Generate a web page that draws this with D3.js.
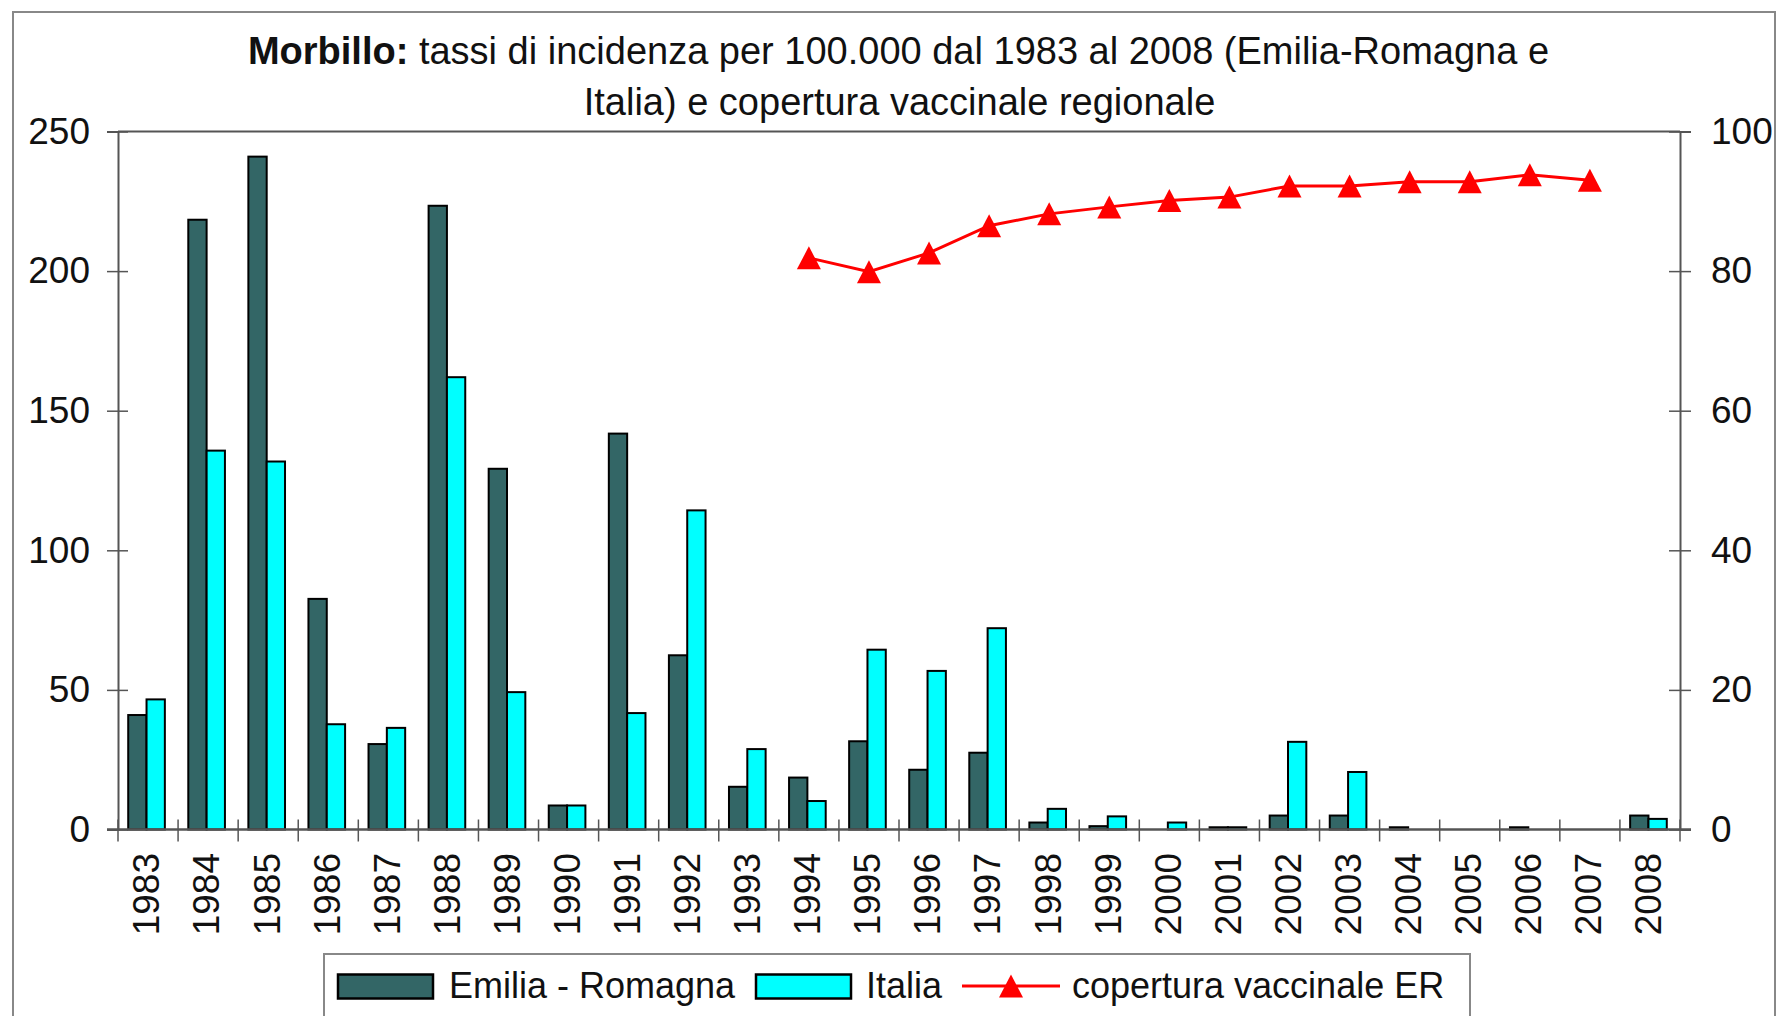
<!DOCTYPE html>
<html>
<head>
<meta charset="utf-8">
<script src="https://cdn.jsdelivr.net/npm/d3@7"></script>
<style>
  html, body { margin: 0; padding: 0; background: #fff; }
  svg { display: block; font-family: "Liberation Sans", Arial, sans-serif; }
</style>
</head>
<body>
<svg id="chart" width="1776" height="1016"></svg>
<script>
// ---- data ----
const years = ["1983","1984","1985","1986","1987","1988","1989","1990","1991","1992","1993","1994","1995","1996","1997","1998","1999","2000","2001","2002","2003","2004","2005","2006","2007","2008"];
const emiliaRomagna = [41, 218.4, 241, 82.6, 30.6, 223.4, 129.2, 8.6, 141.8, 62.4, 15.3, 18.6, 31.6, 21.4, 27.5, 2.5, 1.2, 0, 0.8, 5.0, 5.0, 0.8, 0, 0.8, 0, 5.0];
const italia = [46.6, 135.7, 131.8, 37.7, 36.4, 162, 49.2, 8.6, 41.7, 114.3, 28.8, 10.2, 64.4, 56.8, 72.1, 7.4, 4.7, 2.5, 0.8, 31.4, 20.6, 0, 0, 0, 0, 3.8];
const copertura = [null, null, null, null, null, null, null, null, null, null, null, 81.9, 79.9, 82.6, 86.5, 88.2, 89.2, 90.1, 90.6, 92.2, 92.2, 92.8, 92.8, 93.8, 93.0, null];
const leftTicks = [0, 50, 100, 150, 200, 250];
const rightTicks = [0, 20, 40, 60, 80, 100];
const seriesNames = ["Emilia - Romagna", "Italia", "copertura vaccinale ER"];
const titleBold = "Morbillo:";
const titleRest1 = " tassi di incidenza per 100.000 dal 1983 al 2008 (Emilia-Romagna e";
const titleLine2 = "Italia) e copertura vaccinale regionale";

// ---- layout ----
const svg = d3.select("#chart");
const plot = { left: 118, right: 1680, top: 131.5, bottom: 829.5 };
const colDark = "#336666", colCyan = "#00FFFF", colRed = "#FF0000";
const axisCol = "#555";
const fontSize = 37;

// outer frame
svg.append("rect").attr("x", 13).attr("y", 12).attr("width", 1762).attr("height", 1030)
  .attr("fill", "#fff").attr("stroke", "#888").attr("stroke-width", 2);

const x = d3.scaleBand().domain(years).range([plot.left, plot.right]).padding(0);
const yL = d3.scaleLinear().domain([0, 250]).range([plot.bottom, plot.top]);
const yR = d3.scaleLinear().domain([0, 100]).range([plot.bottom, plot.top]);

// title
const title = svg.append("text").attr("text-anchor", "middle").attr("font-size", 38).attr("fill", "#111");
title.append("tspan").attr("x", 898.5).attr("y", 64).attr("font-weight", "bold").text(titleBold);
title.append("tspan").text(titleRest1);
svg.append("text").attr("text-anchor", "middle").attr("font-size", 38).attr("fill", "#111")
  .attr("x", 899.5).attr("y", 115).text(titleLine2);

// plot top border
svg.append("line").attr("x1", plot.left).attr("x2", plot.right)
  .attr("y1", plot.top).attr("y2", plot.top).attr("stroke", axisCol).attr("stroke-width", 2);

// bars
const bw = x.bandwidth() * 0.305;
const g = svg.append("g");
years.forEach((yr, i) => {
  const c = x(yr) + x.bandwidth() / 2 - 1.5;
  const vals = [[emiliaRomagna[i], colDark, c - bw], [italia[i], colCyan, c]];
  vals.forEach(([v, col, x0]) => {
    if (v > 0) {
      g.append("rect").attr("x", x0).attr("y", yL(v)).attr("width", bw)
        .attr("height", yL(0) - yL(v)).attr("fill", col).attr("stroke", "#000").attr("stroke-width", 2);
    }
  });
});

// left axis
const axL = svg.append("g").attr("transform", `translate(${plot.left},0)`)
  .call(d3.axisLeft(yL).tickValues(leftTicks).tickSizeOuter(0).tickSize(11).tickPadding(17));
axL.select(".domain").attr("stroke", axisCol).attr("stroke-width", 2);
axL.selectAll(".tick line").attr("x1", 10).attr("stroke", axisCol).attr("stroke-width", 1.5);
axL.selectAll(".tick text").attr("font-size", fontSize).attr("fill", "#111").attr("font-family", "Liberation Sans, Arial, sans-serif");

// right axis
const axR = svg.append("g").attr("transform", `translate(${plot.right},0)`)
  .call(d3.axisRight(yR).tickValues(rightTicks).tickSizeOuter(0).tickSize(11).tickPadding(20));
axR.select(".domain").attr("stroke", axisCol).attr("stroke-width", 2);
axR.selectAll(".tick line").attr("x1", -11).attr("stroke", axisCol).attr("stroke-width", 1.5);
axR.selectAll(".tick text").attr("font-size", fontSize).attr("fill", "#111").attr("font-family", "Liberation Sans, Arial, sans-serif");

// bottom axis (zero line + cross ticks at band boundaries)
svg.append("line").attr("x1", plot.left - 11).attr("x2", plot.right + 11)
  .attr("y1", yL(0)).attr("y2", yL(0)).attr("stroke", axisCol).attr("stroke-width", 2.5);
const boundaries = years.map(yr => x(yr)).concat([plot.right]);
svg.append("g").selectAll("line").data(boundaries).join("line")
  .attr("x1", d => d).attr("x2", d => d)
  .attr("y1", yL(0) - 10).attr("y2", yL(0) + 12)
  .attr("stroke", axisCol).attr("stroke-width", 1.5);
svg.append("g").selectAll("text").data(years).join("text")
  .attr("transform", d => `translate(${x(d) + x.bandwidth() / 2 - 2},853) rotate(-90)`)
  .attr("text-anchor", "end").attr("dy", "0.36em")
  .attr("font-size", fontSize).attr("fill", "#111").text(d => d);

// coverage line
const tri = "M0,-11.5L12,11.5L-12,11.5Z";
const pts = years.map((yr, i) => ({ yr, v: copertura[i] })).filter(d => d.v != null);
const line = d3.line().x(d => x(d.yr) + x.bandwidth() / 2).y(d => yR(d.v));
svg.append("path").datum(pts).attr("d", line).attr("fill", "none")
  .attr("stroke", colRed).attr("stroke-width", 3);
svg.append("g").selectAll("path").data(pts).join("path")
  .attr("transform", d => `translate(${x(d.yr) + x.bandwidth() / 2},${yR(d.v)})`)
  .attr("d", tri).attr("fill", colRed);

// legend
const lg = svg.append("g");
lg.append("rect").attr("x", 324).attr("y", 954).attr("width", 1146).attr("height", 90)
  .attr("fill", "#fff").attr("stroke", "#888").attr("stroke-width", 2);
lg.append("rect").attr("x", 338).attr("y", 974.5).attr("width", 95).attr("height", 24)
  .attr("fill", colDark).attr("stroke", "#000").attr("stroke-width", 2.5);
lg.append("text").attr("x", 449).attr("y", 997.5).attr("font-size", 36).attr("fill", "#111").text(seriesNames[0]);
lg.append("rect").attr("x", 756).attr("y", 974.5).attr("width", 95).attr("height", 24)
  .attr("fill", colCyan).attr("stroke", "#000").attr("stroke-width", 2.5);
lg.append("text").attr("x", 866).attr("y", 997.5).attr("font-size", 36).attr("fill", "#111").text(seriesNames[1]);
lg.append("line").attr("x1", 962).attr("x2", 1060).attr("y1", 986).attr("y2", 986)
  .attr("stroke", colRed).attr("stroke-width", 3);
lg.append("path").attr("transform", "translate(1011,986)").attr("d", tri).attr("fill", colRed);
lg.append("text").attr("x", 1072).attr("y", 997.5).attr("font-size", 36).attr("fill", "#111").text(seriesNames[2]);
</script>
</body>
</html>
